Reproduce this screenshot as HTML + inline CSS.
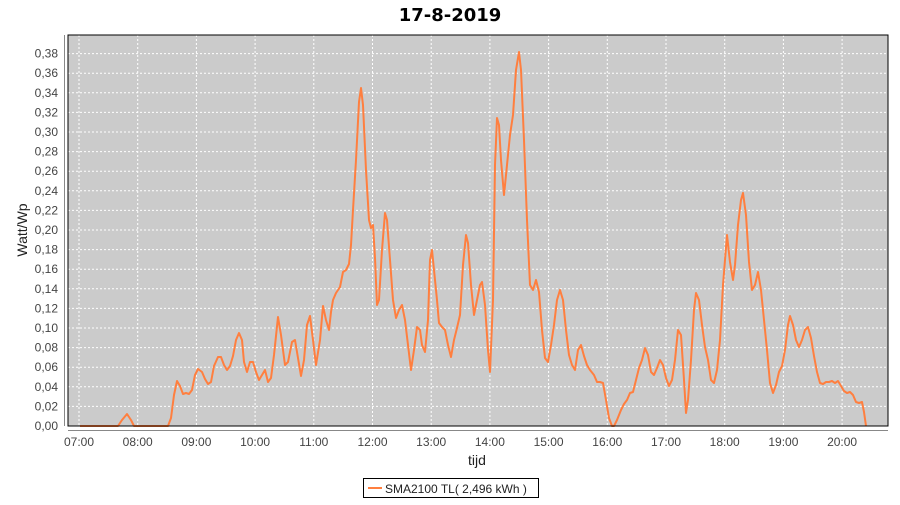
<!DOCTYPE html>
<html><head><meta charset="utf-8"><style>body{margin:0;background:#fff}</style></head><body>
<svg width="900" height="500" xmlns="http://www.w3.org/2000/svg" font-family="Liberation Sans, sans-serif">
<rect width="900" height="500" fill="#fff"/>
<text x="450" y="21" text-anchor="middle" font-size="18" font-weight="bold" font-family="DejaVu Sans, sans-serif">17-8-2019</text>
<rect x="68" y="35" width="820" height="391" fill="#cbcbcb"/>
<g stroke="#fff" stroke-dasharray="2,2" stroke-width="1">
<line x1="68" x2="888" y1="406.4" y2="406.4"/><line x1="68" x2="888" y1="386.8" y2="386.8"/><line x1="68" x2="888" y1="367.2" y2="367.2"/><line x1="68" x2="888" y1="347.6" y2="347.6"/><line x1="68" x2="888" y1="328" y2="328"/><line x1="68" x2="888" y1="308.4" y2="308.4"/><line x1="68" x2="888" y1="288.8" y2="288.8"/><line x1="68" x2="888" y1="269.2" y2="269.2"/><line x1="68" x2="888" y1="249.6" y2="249.6"/><line x1="68" x2="888" y1="230" y2="230"/><line x1="68" x2="888" y1="210.4" y2="210.4"/><line x1="68" x2="888" y1="190.8" y2="190.8"/><line x1="68" x2="888" y1="171.2" y2="171.2"/><line x1="68" x2="888" y1="151.6" y2="151.6"/><line x1="68" x2="888" y1="132" y2="132"/><line x1="68" x2="888" y1="112.4" y2="112.4"/><line x1="68" x2="888" y1="92.8" y2="92.8"/><line x1="68" x2="888" y1="73.2" y2="73.2"/><line x1="68" x2="888" y1="53.6" y2="53.6"/>
<line y1="35" y2="426" x1="79" x2="79"/><line y1="35" y2="426" x1="137.7" x2="137.7"/><line y1="35" y2="426" x1="196.4" x2="196.4"/><line y1="35" y2="426" x1="255.1" x2="255.1"/><line y1="35" y2="426" x1="313.8" x2="313.8"/><line y1="35" y2="426" x1="372.5" x2="372.5"/><line y1="35" y2="426" x1="431.2" x2="431.2"/><line y1="35" y2="426" x1="489.9" x2="489.9"/><line y1="35" y2="426" x1="548.6" x2="548.6"/><line y1="35" y2="426" x1="607.3" x2="607.3"/><line y1="35" y2="426" x1="666" x2="666"/><line y1="35" y2="426" x1="724.7" x2="724.7"/><line y1="35" y2="426" x1="783.4" x2="783.4"/><line y1="35" y2="426" x1="842.1" x2="842.1"/>
</g>
<polyline fill="none" stroke="#ff7f3f" stroke-width="2" stroke-linejoin="round" points="80,426 118,426 122,420 127,414 131,420 134,426 168,426 171,418 174,395 177,381 180,386 183,394 186,393 189,394 192,390 195,375 198,369 202,372 205,379 208,384 211,382 214,366 218,357 221,357 224,365 227,370 230,366 233,356 236,340 239,333 242,340 244,362 247,372 250,362 253,362 256,372 259,380 262,375 265,370 268,382 271,378 274,355 278,317 281,335 285,365 288,362 292,342 295,340 298,358 301,376 304,360 307,325 310,316 313,340 316,365 320,340 323,306 326,320 329,330 331,312 333,300 336,293 340,287 343,272 346,270 349,264 351,245 353,210 356,160 359,102 361,88 363,105 366,170 369,220 371,228 373,225 375,258 377,305 379,300 382,250 385,213 387,220 390,260 393,300 396,318 399,310 402,305 405,320 408,345 411,370 414,350 417,327 420,330 422,345 425,352 428,320 430,260 432,250 434,270 437,300 439,323 442,327 445,330 448,345 451,357 454,340 457,328 460,315 463,265 466,235 468,243 471,285 474,315 477,300 480,285 482,282 485,305 488,350 490,372 493,300 495,165 497,118 499,125 501,160 504,195 507,165 510,135 513,115 516,70 519,52 521,70 524,140 527,220 530,285 533,290 536,280 539,292 542,330 545,358 548,362 551,345 554,325 557,300 560,290 563,300 566,330 569,355 572,365 575,370 578,350 581,345 584,356 587,365 590,370 594,375 597,382 600,382 603,383 606,400 609,418 612,426 614,426 617,420 621,410 624,404 627,400 630,393 633,392 636,380 639,368 642,360 645,348 648,355 651,372 654,375 657,368 660,360 663,365 666,378 669,386 672,380 675,360 678,330 681,335 684,380 686,413 688,400 691,360 694,310 696,293 699,300 702,325 705,347 708,360 711,380 714,383 717,370 720,340 723,285 727,235 730,262 733,280 735,265 738,225 741,200 743,193 746,215 749,262 752,290 755,285 758,272 761,290 764,320 767,350 770,383 773,393 776,385 779,372 782,366 785,350 788,325 790,316 793,325 796,340 799,347 802,340 805,330 808,327 811,338 814,356 817,372 820,383 823,384 826,382 829,382 832,381 835,383 838,381 841,386 844,391 847,393 850,392 853,395 856,402 859,403 862,402 864,412 866,426"/>
<rect x="68" y="35" width="820" height="391" fill="none" stroke="#000" stroke-width="1"/>
<g stroke="#888"><line x1="64.5" x2="64.5" y1="35" y2="426"/><line x1="68" x2="888" y1="430.5" y2="430.5"/></g>
<g font-size="12" fill="#444" text-anchor="end">
<text x="58" y="430">0,00</text><text x="58" y="410.4">0,02</text><text x="58" y="390.8">0,04</text><text x="58" y="371.2">0,06</text><text x="58" y="351.6">0,08</text><text x="58" y="332">0,10</text><text x="58" y="312.4">0,12</text><text x="58" y="292.8">0,14</text><text x="58" y="273.2">0,16</text><text x="58" y="253.6">0,18</text><text x="58" y="234">0,20</text><text x="58" y="214.4">0,22</text><text x="58" y="194.8">0,24</text><text x="58" y="175.2">0,26</text><text x="58" y="155.6">0,28</text><text x="58" y="136">0,30</text><text x="58" y="116.4">0,32</text><text x="58" y="96.8">0,34</text><text x="58" y="77.2">0,36</text><text x="58" y="57.6">0,38</text>
</g>
<g font-size="12" fill="#444" text-anchor="middle">
<text x="79" y="446">07:00</text><text x="137.7" y="446">08:00</text><text x="196.4" y="446">09:00</text><text x="255.1" y="446">10:00</text><text x="313.8" y="446">11:00</text><text x="372.5" y="446">12:00</text><text x="431.2" y="446">13:00</text><text x="489.9" y="446">14:00</text><text x="548.6" y="446">15:00</text><text x="607.3" y="446">16:00</text><text x="666" y="446">17:00</text><text x="724.7" y="446">18:00</text><text x="783.4" y="446">19:00</text><text x="842.1" y="446">20:00</text>
</g>
<text x="477" y="465" font-size="14" text-anchor="middle" fill="#222">tijd</text>
<text transform="translate(27,230) rotate(-90)" font-size="14" text-anchor="middle" fill="#222">Watt/Wp</text>
<rect x="363.5" y="478.5" width="175" height="19" fill="#fff" stroke="#000"/>
<line x1="368" x2="382" y1="488" y2="488" stroke="#ff7f3f" stroke-width="2"/>
<text x="385" y="493" font-size="12" fill="#222">SMA2100 TL( 2,496 kWh )</text>
</svg>
</body></html>
